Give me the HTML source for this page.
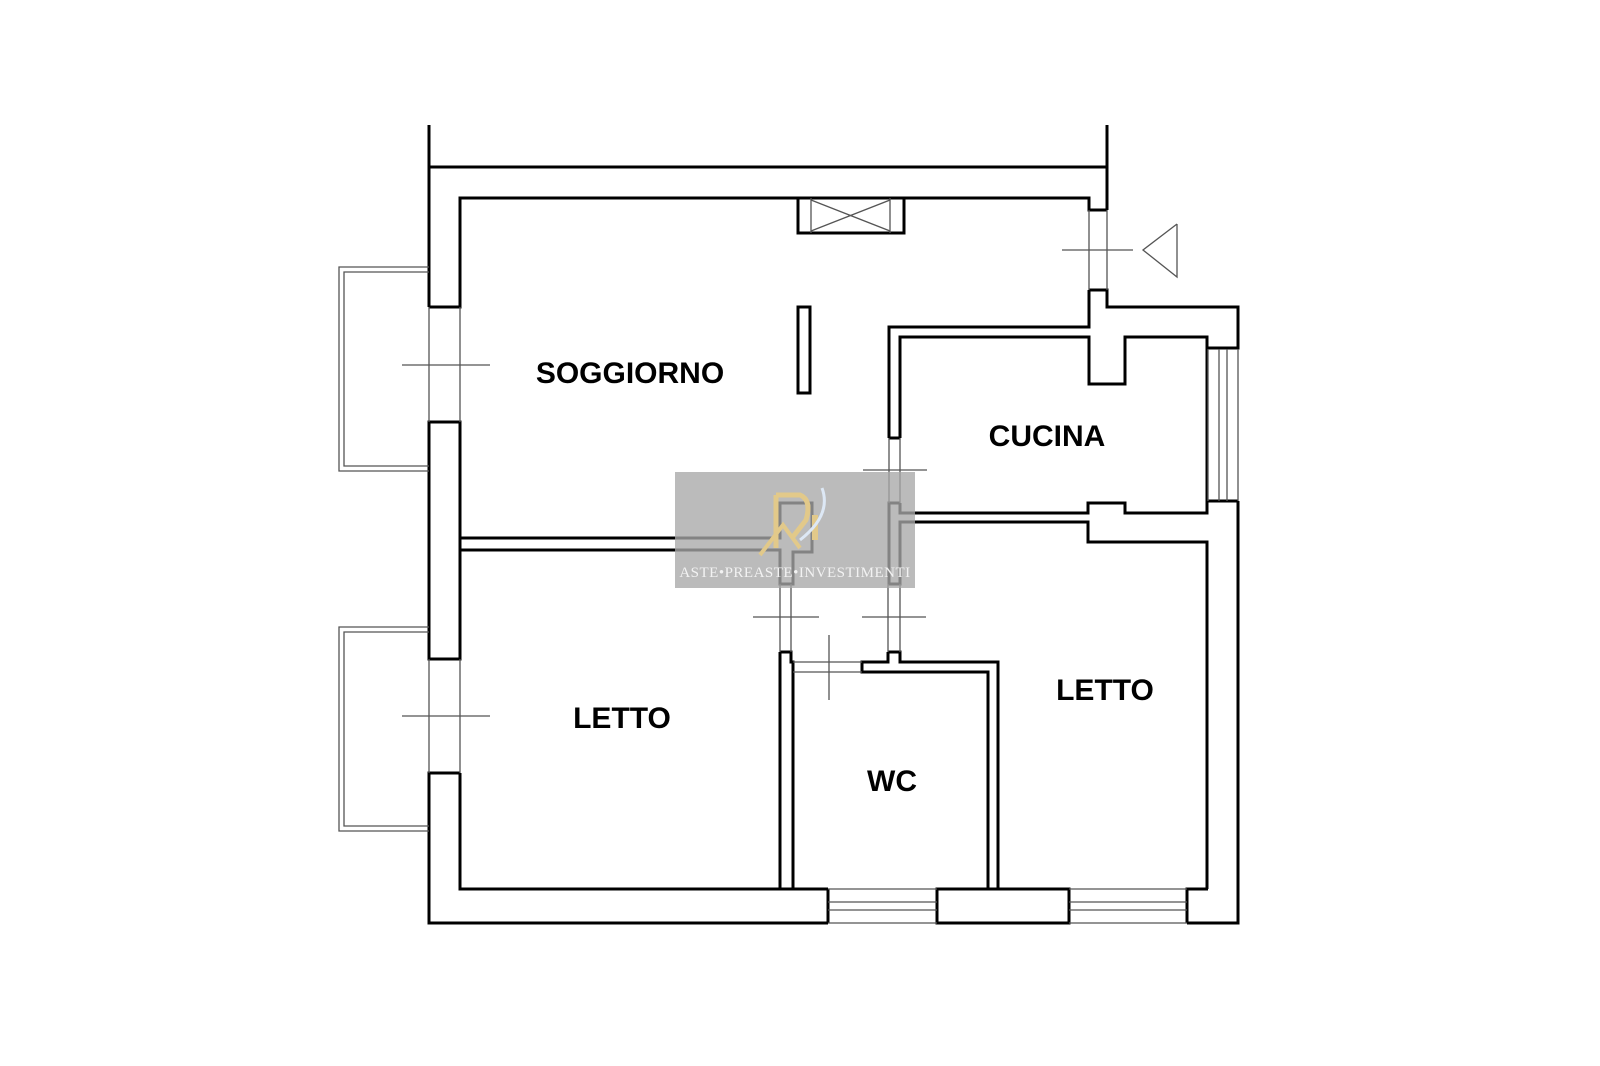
<!DOCTYPE html>
<html><head><meta charset="utf-8"><style>
html,body{margin:0;padding:0;background:#fff;width:1600px;height:1066px;overflow:hidden}
svg{position:absolute;left:0;top:0}
text{font-family:"Liberation Sans",sans-serif;font-weight:bold;fill:#000}
</style></head><body>
<svg width="1600" height="1066" viewBox="0 0 1600 1066">
<g fill="none" stroke="#000" stroke-width="3" stroke-linejoin="miter">
<line x1="429" y1="125" x2="429" y2="307"/>
<line x1="1107" y1="125" x2="1107" y2="210"/>
<line x1="429" y1="167" x2="1107" y2="167"/>
<polyline points="429,307 460,307 460,198 1089,198 1089,210 1107,210"/>
<rect x="429" y="422" width="31" height="237"/>
<polyline points="460,773 429,773 429,923 828,923"/>
<polyline points="460,773 460,889 780,889"/>
<line x1="828" y1="889" x2="828" y2="923"/>
<line x1="791" y1="889" x2="828" y2="889"/>
<rect x="937" y="889" width="132" height="34"/>
<polyline points="1187,923 1187,889 1208,889"/>
<polyline points="1187,923 1238,923 1238,501"/>
<rect x="798" y="198" width="106" height="35"/>
<rect x="798" y="307" width="12" height="86"/>
<polyline points="1089,290 1107,290 1107,307 1238,307 1238,348 1207,348 1207,501"/>
<polyline points="1089,290 1089,327 889,327 889,438"/>
<polyline points="900,438 900,337 1089,337 1089,384 1125,384 1125,337 1207,337 1207,348"/>
<line x1="889" y1="438" x2="900" y2="438"/>
<polyline points="900,503 889,503 889,584 900,584 900,522 1088,522 1088,542 1207,542 1207,889"/>
<polyline points="900,503 900,513 1088,513 1088,503 1125,503 1125,513 1207,513 1207,501 1238,501"/>
<polyline points="460,538 780,538 780,503 812,503 812,552 793,552 793,584 780,584 780,550 460,550"/>
<polyline points="780,652 791,652 791,662 793,662 793,672 793,889"/>
<polyline points="780,652 780,889 791,889"/>
<polyline points="888,652 900,652 900,662 998,662 998,889"/>
<polyline points="888,652 888,662 862,662 862,672 988,672 988,889"/>
</g>
<g fill="none" stroke="#555" stroke-width="1.3">
<line x1="429" y1="307" x2="429" y2="422"/><line x1="460" y1="307" x2="460" y2="422"/>
<line x1="429" y1="659" x2="429" y2="773"/><line x1="460" y1="659" x2="460" y2="773"/>
<line x1="402" y1="365" x2="490" y2="365"/><line x1="402" y1="716" x2="490" y2="716"/>
<polyline points="429,267 339,267 339,471 429,471"/>
<polyline points="429,272 344,272 344,466 429,466"/>
<polyline points="429,627 339,627 339,831 429,831"/>
<polyline points="429,632 344,632 344,826 429,826"/>
<line x1="811" y1="198" x2="811" y2="233"/><line x1="890" y1="198" x2="890" y2="233"/>
<line x1="811" y1="200" x2="890" y2="231"/><line x1="811" y1="231" x2="890" y2="200"/>
<line x1="1089" y1="210" x2="1089" y2="290"/><line x1="1107" y1="210" x2="1107" y2="290"/>
<line x1="1062" y1="250" x2="1133" y2="250"/>
<polyline points="1177,224 1143,250 1177,277 1177,224"/>
<line x1="1208" y1="349" x2="1208" y2="501"/><line x1="1219" y1="349" x2="1219" y2="501"/>
<line x1="1227" y1="349" x2="1227" y2="501"/><line x1="1238" y1="349" x2="1238" y2="501"/>
<line x1="889" y1="438" x2="889" y2="503"/><line x1="900" y1="438" x2="900" y2="503"/>
<line x1="863" y1="470" x2="927" y2="470"/>
<line x1="780" y1="584" x2="780" y2="652"/><line x1="791" y1="584" x2="791" y2="652"/>
<line x1="888" y1="584" x2="888" y2="652"/><line x1="900" y1="584" x2="900" y2="652"/>
<line x1="753" y1="617" x2="819" y2="617"/><line x1="862" y1="617" x2="926" y2="617"/>
<line x1="793" y1="662" x2="862" y2="662"/><line x1="793" y1="672" x2="862" y2="672"/>
<line x1="829" y1="635" x2="829" y2="700"/>
<line x1="828" y1="902" x2="937" y2="902"/><line x1="828" y1="910" x2="937" y2="910"/>
<line x1="828" y1="889" x2="937" y2="889"/>
<line x1="1069" y1="902" x2="1187" y2="902"/><line x1="1069" y1="910" x2="1187" y2="910"/>
<line x1="1069" y1="889" x2="1187" y2="889"/><line x1="1069" y1="923" x2="1187" y2="923"/>
<line x1="937" y1="923" x2="828" y2="923"/>
</g>
<text x="630" y="383" font-size="30" text-anchor="middle">SOGGIORNO</text>
<text x="1047" y="446" font-size="30" text-anchor="middle">CUCINA</text>
<text x="622" y="728" font-size="30" text-anchor="middle">LETTO</text>
<text x="1105" y="700" font-size="30" text-anchor="middle">LETTO</text>
<text x="892" y="791" font-size="30" text-anchor="middle">WC</text>
<rect x="675" y="472" width="240" height="116" fill="#a8a8a8" opacity="0.78"/>
<path d="M776 495 L800 495 Q812 500 806 520 L792 538 M776 495 L776 548" fill="none" stroke="#e2c98a" stroke-width="5"/>
<path d="M760 555 L783 525 L800 548" fill="none" stroke="#e2c98a" stroke-width="4"/>
<rect x="812" y="515" width="6" height="25" fill="#e2c98a"/>
<path d="M822 488 Q832 515 800 540" fill="none" stroke="#dde8f5" stroke-width="3"/>
<text x="795" y="577" font-size="15" text-anchor="middle" style="font-family:'Liberation Serif',serif;font-weight:normal;fill:#f2f2f2;letter-spacing:0.5px">ASTE•PREASTE•INVESTIMENTI</text>
</svg>
</body></html>
